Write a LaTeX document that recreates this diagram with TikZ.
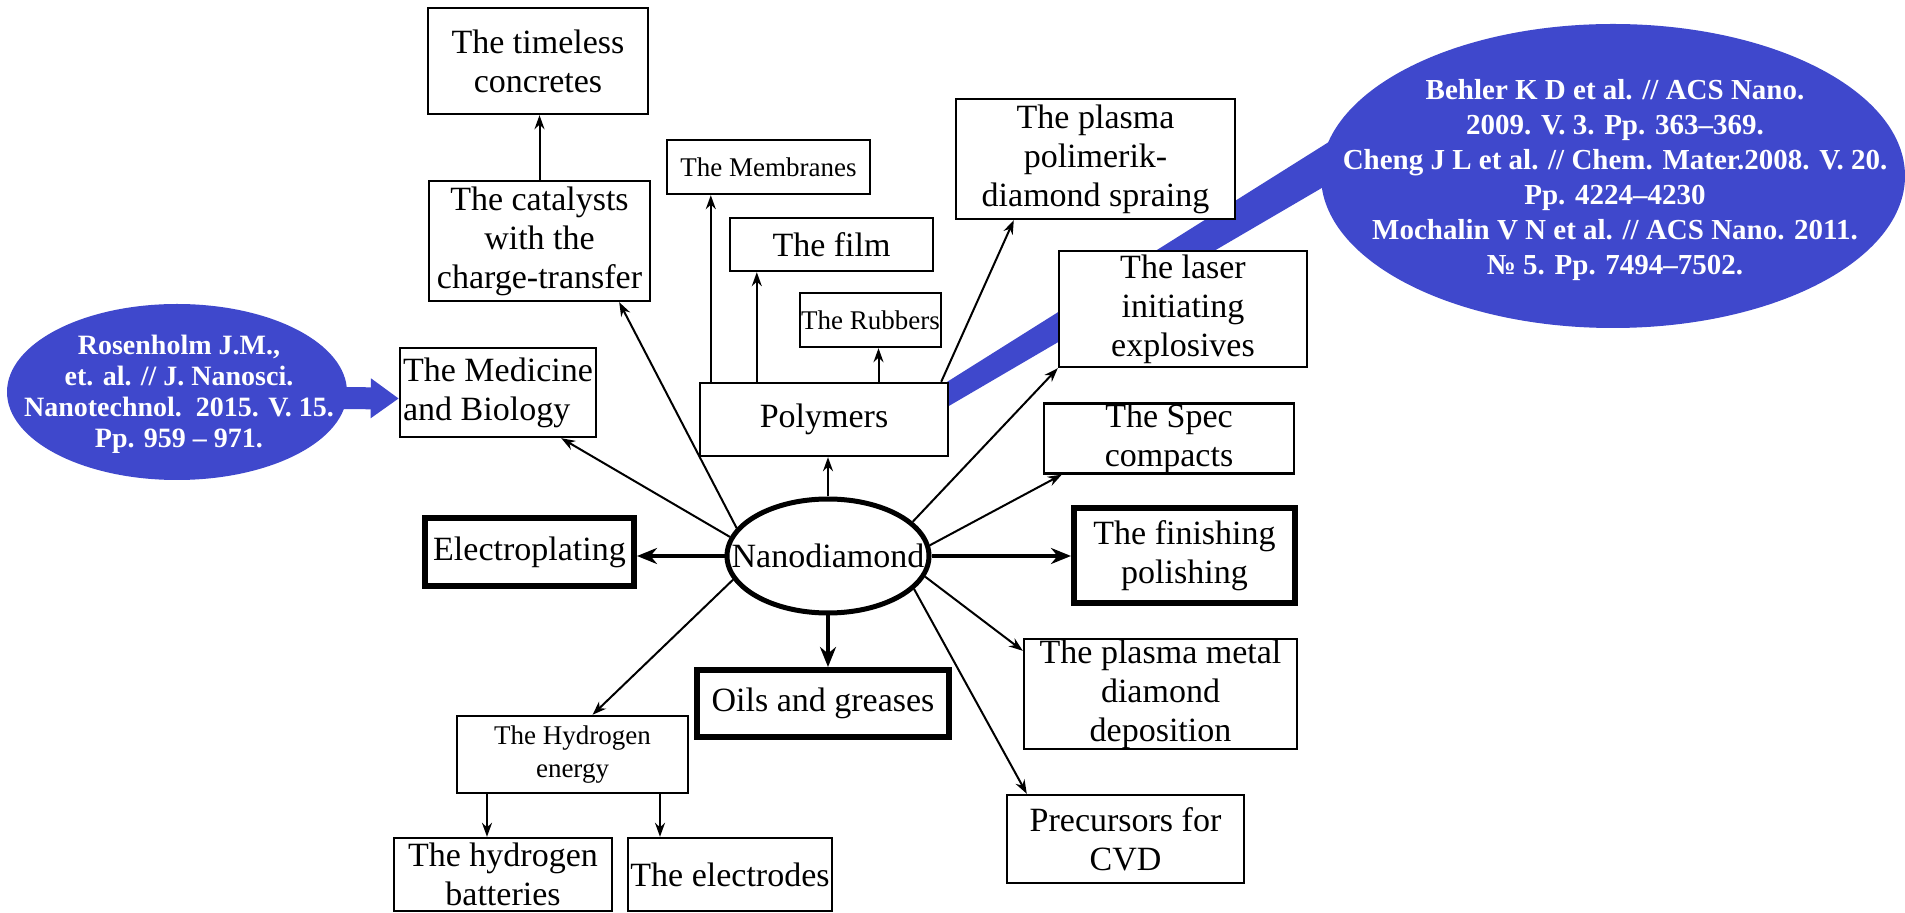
\documentclass[tikz,border=0pt]{standalone}
\usepackage{fontspec}
\setmainfont{Liberation Serif}
\usetikzlibrary{shapes.geometric,arrows.meta,backgrounds}
\definecolor{refblue}{RGB}{63,72,204}

\begin{document}
\begin{tikzpicture}[x=0.5pt,y=-0.5pt,
    box/.style={draw,fill=white,line width=1.2pt,inner sep=0pt,align=center,
      font=\fontsize{17}{19.5}\selectfont},
    boldbox/.style={box,line width=3pt},
    smallbox/.style={box,font=\fontsize{13.5}{16.5}\selectfont},
    arr/.style={line width=1pt,-{Stealth[length=7pt,width=5pt]}},
    bigarr/.style={line width=2pt,-{Stealth[length=10pt,width=8pt]}},
    refoval/.style={ellipse,fill=refblue,inner sep=0pt},
    reftext/.style={text=white,align=center,font=\bfseries\fontsize{14}{15.5}\selectfont}]

    % whole figure in pixels, y downwards
    \useasboundingbox (0,0) rectangle (1905,913);

    % Nanodiamond in the middle
    \node[ellipse,draw,fill=white,line width=2.5pt,inner sep=0pt,
      minimum width=101pt,minimum height=57pt] (nano) at (828,556) {};
    \node[font=\fontsize{17}{19.5}\selectfont,inner sep=0pt] (nanotxt) at (nano) {Nanodiamond};

    % upper left
    \node[box,minimum width=110pt,minimum height=53pt] (conc) at (538,61) {The timeless\\concretes};
    \node[box,minimum width=110.5pt,minimum height=60pt] (cat) at (539.5,241) {The catalysts\\with the\\charge-transfer};
    \node[box,align=left,minimum width=98pt,minimum height=44.5pt] (med) at (498,392.5) {The Medicine\\and Biology};

    % Polymers and what comes out of it
    \node[box,minimum width=124pt,minimum height=36.5pt] (poly) at (824,419.5) {Polymers};
    \node[smallbox,minimum width=101.5pt,minimum height=27pt] (memb) at (768.5,167) {The Membranes};
    \node[box,minimum width=101.5pt,minimum height=26.5pt] (film) at (831.5,244.5) {The film};
    \node[smallbox,minimum width=70.5pt,minimum height=27pt] (rubb) at (870.5,320) {The Rubbers};
    \node[box,minimum width=139.5pt,minimum height=60pt] (plasp) at (1095.5,159) {The plasma\\polimerik-\\diamond spraing};

    % right side
    \node[box,minimum width=124pt,minimum height=58pt] (laser) at (1183,309) {The laser\\initiating\\explosives};
    \node[box,minimum width=125pt,minimum height=34.5pt] (spec) at (1169,438.5) {The Spec\\compacts};
    \node[boldbox,minimum width=110.5pt,minimum height=47.5pt] (fin) at (1184.5,555.5) {The finishing\\polishing};
    \node[box,minimum width=136.5pt,minimum height=55pt] (plasm) at (1160.5,694) {The plasma metal\\diamond\\deposition};
    \node[box,minimum width=118.5pt,minimum height=44pt] (cvd) at (1125.5,839) {Precursors for\\CVD};

    % bottom and left
    \node[boldbox,minimum width=126pt,minimum height=33.5pt] (oils) at (823,703.5) {Oils and greases};
    \node[boldbox,minimum width=104.5pt,minimum height=34pt] (elpl) at (529.5,552) {Electroplating};
    \node[smallbox,minimum width=115.5pt,minimum height=38.5pt] (hyd) at (572.5,754.5) {The Hydrogen\\energy};
    \node[box,minimum width=109pt,minimum height=36.5pt] (batt) at (503,874.5) {The hydrogen\\batteries};
    \node[box,minimum width=102pt,minimum height=36.5pt] (elec) at (730,874.5) {The electrodes};

    % blue references
    \node[refoval,minimum width=170pt,minimum height=88pt] (refL) at (177,392) {};
    \node[reftext] (refLtxt) at (179,394) {Rosenholm J.M.,\\et. al. // J. Nanosci.\\Nanotechnol.\ \ 2015. V. 15.\\Pp. 959 -- 971.};
    \node[refoval,minimum width=292pt,minimum height=152pt] (refR) at (1613,176) {};
    \node[reftext,font=\bfseries\fontsize{14.5}{17.5}\selectfont] (refRtxt) at (1615,180)
      {Behler K D et al. // ACS Nano.\\2009. V. 3. Pp. 363--369.\\Cheng J L et al. // Chem. Mater.2008. V. 20.\\Pp. 4224--4230\\Mochalin V N et al. // ACS Nano. 2011.\\№ 5. Pp. 7494--7502.};
    \coordinate (bandtop) at (1332,140);
    \coordinate (bandbot) at (1332,182);

    \begin{scope}[on background layer]
      \fill[white] (0,0) rectangle (1905,913);
      % callouts
      \fill[refblue] ([xshift=-1pt]poly.north east) -- (bandtop) -- (bandbot) -- ([yshift=-12pt]poly.north east) -- cycle;
      \draw[refblue,line width=11pt,-{Triangle[length=14pt,width=19pt]}] ([xshift=-8pt,yshift=-3pt]refL.east) -- ([yshift=-3pt]med.west);

      % arrows out of the centre
      \draw[arr] (nano.163) -- ([xshift=-16pt]cat.south east);
      \draw[arr] (nano.169) -- ([xshift=-18pt]med.south east);
      \draw[arr] (nano.north) -- (nano.north |- poly.south);
      \draw[arr] (nano.22) -- (laser.south west);
      \draw[arr] (nano.6) -- ([xshift=9.5pt]spec.south west);
      \draw[arr] (nano.348) -- ([yshift=-6.5pt]plasm.north west);
      \draw[arr] (nano.339) -- ([xshift=10.5pt]cvd.north west);
      \draw[arr] (nano.194) -- ([xshift=10pt]hyd.north);
      \draw[bigarr] (nano.east) -- (nano.east -| fin.west);
      \draw[bigarr] (nano.south) -- (nano.south |- oils.north);
      \draw[bigarr] (nano.west) -- (nano.west -| elpl.east);

      % second level
      \draw[arr] (cat.north) -- (cat.north |- conc.south);
      \coordinate (mA) at ([xshift=22.5pt]memb.south west);
      \coordinate (fA) at ([xshift=14pt]film.south west);
      \coordinate (rA) at ([xshift=4pt]rubb.south);
      \draw[arr] (mA |- poly.north) -- (mA);
      \draw[arr] (fA |- poly.north) -- (fA);
      \draw[arr] (rA |- poly.north) -- (rA);
      \draw[arr] ([xshift=-4pt]poly.north east) -- ([xshift=29.5pt]plasp.south west);
      \coordinate (bA) at ([xshift=-8pt]batt.north);
      \coordinate (eA) at ([xshift=-35pt]elec.north);
      \draw[arr] (bA |- hyd.south) -- (bA);
      \draw[arr] (eA |- hyd.south) -- (eA);
    \end{scope}
\end{tikzpicture}
\end{document}
